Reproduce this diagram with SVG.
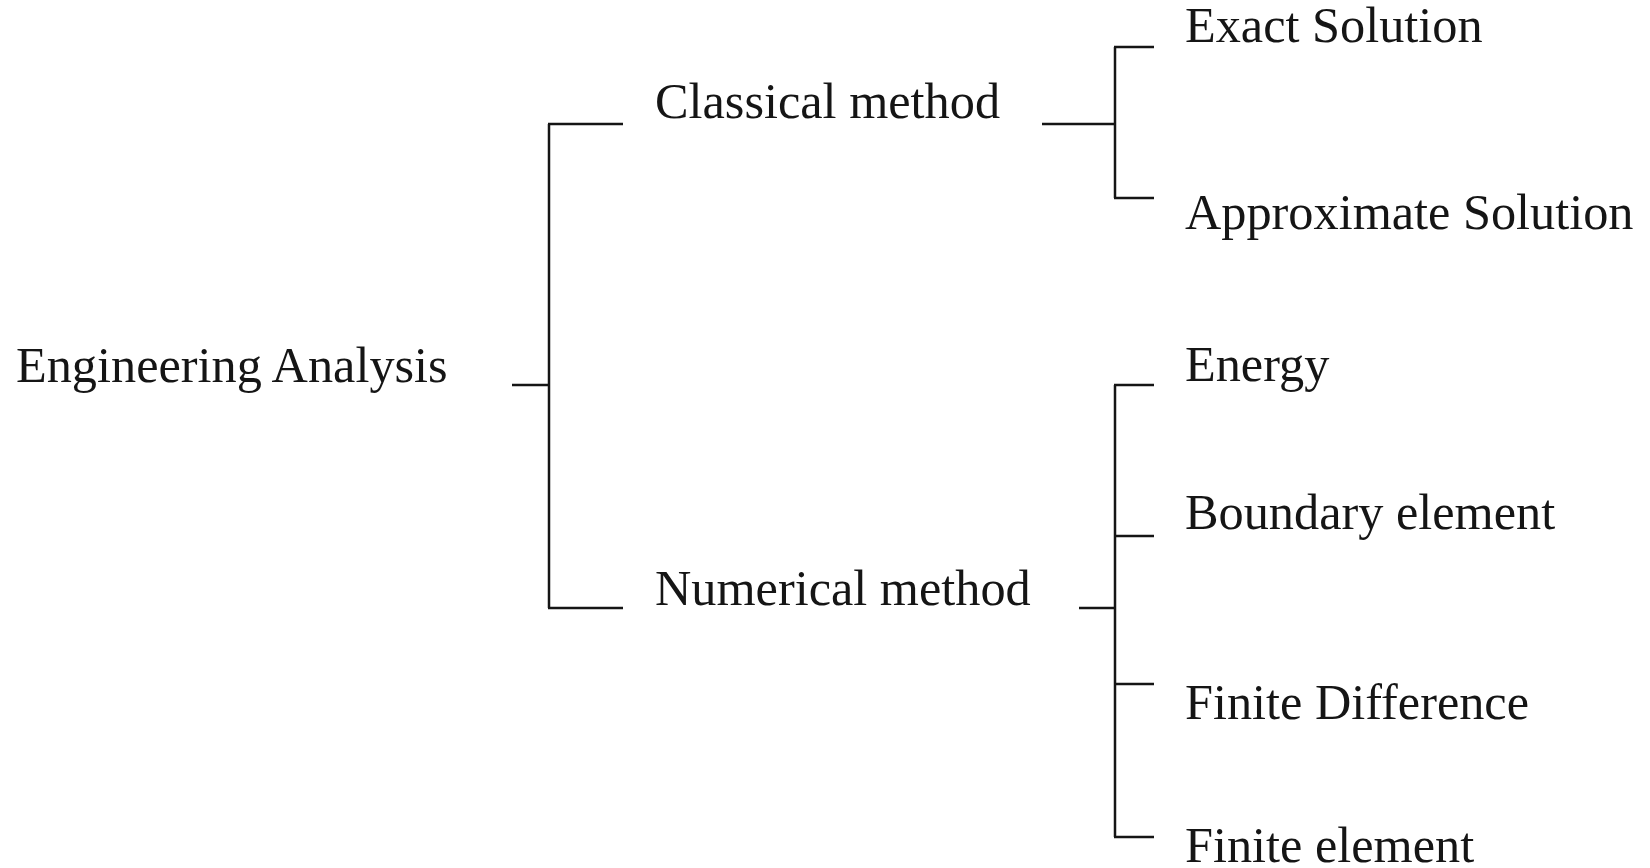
<svg xmlns="http://www.w3.org/2000/svg" width="1650" height="868" viewBox="0 0 1650 868">
<style>
text{font-family:"Liberation Serif","Times New Roman",serif;font-size:50.3px;fill:#151515}
.c line{stroke:#151515;stroke-width:2.5;fill:none}
</style>
<rect width="1650" height="868" fill="#fff"/>
<g class="c" id="connectors">
<line x1="512" y1="385" x2="549" y2="385"/>
<line x1="549" y1="124" x2="549" y2="608"/>
<line x1="548" y1="124" x2="623" y2="124"/>
<line x1="548" y1="608" x2="623" y2="608"/>
<line x1="1042" y1="124" x2="1115" y2="124"/>
<line x1="1115" y1="47" x2="1115" y2="198"/>
<line x1="1114" y1="47" x2="1154" y2="47"/>
<line x1="1114" y1="198" x2="1154" y2="198"/>
<line x1="1079" y1="608" x2="1115" y2="608"/>
<line x1="1115" y1="385" x2="1115" y2="837"/>
<line x1="1114" y1="385" x2="1154" y2="385"/>
<line x1="1114" y1="536" x2="1154" y2="536"/>
<line x1="1114" y1="684" x2="1154" y2="684"/>
<line x1="1114" y1="837" x2="1154" y2="837"/>
</g>
<g id="n-root"><text x="16" y="382">Engineering Analysis</text></g>
<g id="n-classical"><text x="655" y="118">Classical method</text></g>
<g id="n-numerical"><text x="655" y="605">Numerical method</text></g>
<g id="n-exact"><text x="1185" y="42">Exact Solution</text></g>
<g id="n-approx"><text x="1185" y="229">Approximate Solution</text></g>
<g id="n-energy"><text x="1185" y="381">Energy</text></g>
<g id="n-boundary"><text x="1185" y="529">Boundary element</text></g>
<g id="n-fd"><text x="1185" y="719">Finite Difference</text></g>
<g id="n-fe"><text x="1185" y="862">Finite element</text></g>
</svg>
